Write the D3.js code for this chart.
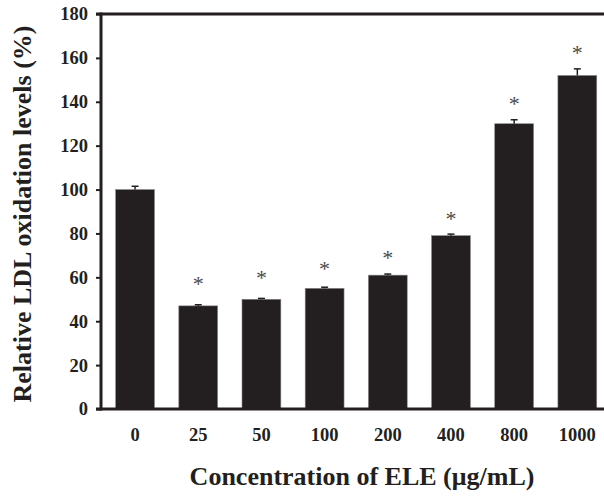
<!DOCTYPE html>
<html>
<head>
<meta charset="utf-8">
<script src="https://cdn.jsdelivr.net/npm/d3@7"></script>
<style>
  body { margin: 0; background: #fff; }
  text { font-family: "Liberation Serif", "Times New Roman", serif; font-weight: bold; fill: #231f20; }
</style>
</head>
<body>
<div id="chart"></div>
<script>
// Data
const concentrations = ["0", "25", "50", "100", "200", "400", "800", "1000"]
const ldlLevels = [100, 47, 50, 55, 61, 79, 130, 152]
const ldlErrors = [1.5, 0.5, 0.4, 0.5, 0.5, 0.7, 1.8, 3]
// Height (in %) where each significance star sits, null = no star
const starLevels = [null, 58, 60.5, 64.6, 69.9, 87.5, 139.8, 163]
const yTicks = [0, 20, 40, 60, 80, 100, 120, 140, 160, 180]

// Dimensions
const width = 604
const height = 499
const margin = {top: 14, right: 0, bottom: 90, left: 101}
const plotWidth = width - margin.left - margin.right
const plotHeight = height - margin.top - margin.bottom
const barColor = "#231f20"

const svg = d3.select("#chart")
  .append("svg")
    .attr("width", width)
    .attr("height", height)

const plot = svg.append("g")
    .attr("transform", `translate(${margin.left},${margin.top})`)

// Scales
const xScale = d3.scaleBand()
    .domain(concentrations)
    .range([2, 2 + 63.3 * 8])
    .paddingInner(0.385)
    .paddingOuter(0.2)

const yScale = d3.scaleLinear()
    .domain([0, 180])
    .range([plotHeight, 0])

// Bars
plot.selectAll(".bar")
    .data(concentrations)
    .enter().append("rect")
    .attr("class", "bar")
    .attr("x", function(d) { return xScale(d) })
    .attr("y", function(d, i) { return yScale(ldlLevels[i]) })
    .attr("width", xScale.bandwidth())
    .attr("height", function(d, i) { return plotHeight - yScale(ldlLevels[i]) })
    .attr("fill", barColor)
    .attr("stroke", "#8a8889")
    .attr("stroke-width", 0.6)

// Error bars
const errorGroup = plot.selectAll(".err")
    .data(concentrations)
    .enter().append("g")
    .attr("class", "err")
    .attr("stroke", barColor)
    .attr("stroke-width", 1.5)

errorGroup.append("line")
    .attr("x1", function(d) { return xScale(d) + xScale.bandwidth() / 2 })
    .attr("x2", function(d) { return xScale(d) + xScale.bandwidth() / 2 })
    .attr("y1", function(d, i) { return yScale(ldlLevels[i]) })
    .attr("y2", function(d, i) { return yScale(ldlLevels[i] + ldlErrors[i]) })

errorGroup.append("line")
    .attr("x1", function(d) { return xScale(d) + xScale.bandwidth() / 2 - 3.5 })
    .attr("x2", function(d) { return xScale(d) + xScale.bandwidth() / 2 + 3.5 })
    .attr("y1", function(d, i) { return yScale(ldlLevels[i] + ldlErrors[i]) })
    .attr("y2", function(d, i) { return yScale(ldlLevels[i] + ldlErrors[i]) })

// Significance stars
plot.selectAll(".star")
    .data(concentrations.filter(function(d, i) { return starLevels[i] !== null }))
    .enter().append("text")
    .attr("class", "star")
    .attr("x", function(d) { return xScale(d) + xScale.bandwidth() / 2 })
    .attr("y", function(d) { return yScale(starLevels[concentrations.indexOf(d)]) + 9 })
    .attr("text-anchor", "middle")
    .style("font-size", "22px")
    .style("font-weight", "normal")
    .style("fill", "#4a4a4a")
    .text("*")

// Y axis
const yAxis = plot.append("g")
    .attr("class", "y-axis")
    .call(d3.axisLeft(yScale)
      .tickValues(yTicks)
      .tickSize(5)
      .tickPadding(8))

yAxis.select(".domain")
    .attr("d", `M0,${yScale(180) - 1.5}V${plotHeight + 1.5}`)
    .attr("stroke", barColor)
    .attr("stroke-width", 3)
yAxis.selectAll(".tick line").attr("stroke", barColor).attr("stroke-width", 2)
yAxis.selectAll(".tick text").style("font-size", "18.5px").style("font-family", "Liberation Serif")

// X axis
const xAxis = plot.append("g")
    .attr("class", "x-axis")
    .attr("transform", `translate(0,${plotHeight})`)
    .call(d3.axisBottom(xScale)
      .tickSize(0)
      .tickPadding(19))

xAxis.select(".domain")
    .attr("d", `M-5,0H${plotWidth}`)
    .attr("stroke", barColor)
    .attr("stroke-width", 3)
xAxis.selectAll(".tick text").style("font-size", "18.5px").style("font-family", "Liberation Serif")

// Top border
plot.append("line")
    .attr("x1", -5)
    .attr("x2", plotWidth)
    .attr("y1", yScale(180))
    .attr("y2", yScale(180))
    .attr("stroke", barColor)
    .attr("stroke-width", 3)

// Axis titles
svg.append("text")
    .attr("x", 362)
    .attr("y", 485)
    .attr("text-anchor", "middle")
    .style("font-size", "26px")
    .text("Concentration of ELE (μg/mL)")

svg.append("text")
    .attr("transform", "translate(31,214) rotate(-90)")
    .attr("text-anchor", "middle")
    .style("font-size", "26px")
    .text("Relative LDL oxidation levels (%)")
</script>
</body>
</html>
